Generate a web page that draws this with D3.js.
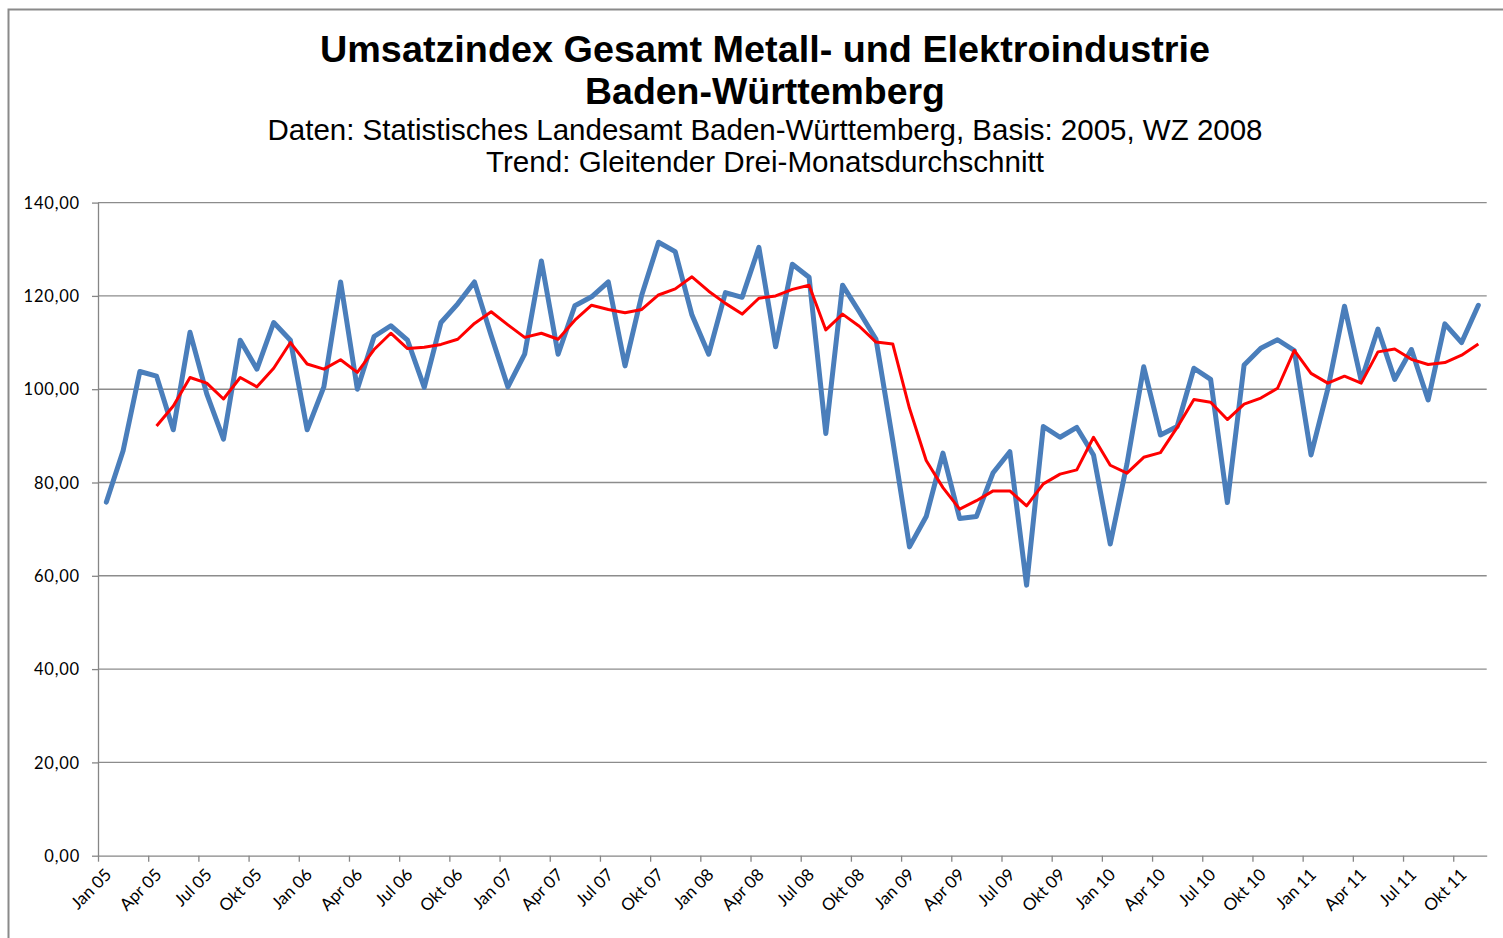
<!DOCTYPE html>
<html>
<head>
<meta charset="utf-8">
<script src="https://cdn.jsdelivr.net/npm/d3@7"></script>
<style>
  body { margin: 0; background: #fff; }
  svg { display: block; }
  .title { font-family: "Liberation Sans", Arial, sans-serif; font-weight: bold; fill: #000; }
  .subtitle { font-family: "Liberation Sans", Arial, sans-serif; fill: #000; }
  .axis text { font-family: Lato, "Open Sans", sans-serif; fill: #000; }
  .axis path, .axis line { stroke: #868686; stroke-width: 1.3; }
  .grid line { stroke: #8c8c8c; stroke-width: 1.4; }
</style>
</head>
<body>
<div id="chart"></div>
<script>
// month names + years for the categories (Jan 05 .. Nov 11)
var monthNames = ["Jan", "Feb", "Mrz", "Apr", "Mai", "Jun", "Jul", "Aug", "Sep", "Okt", "Nov", "Dez"];
var years = ["05", "06", "07", "08", "09", "10", "11"];

// tick labels, one every three months
var tickLabels = [
  "Jan 05", "Apr 05", "Jul 05", "Okt 05", "Jan 06", "Apr 06", "Jul 06", "Okt 06",
  "Jan 07", "Apr 07", "Jul 07", "Okt 07", "Jan 08", "Apr 08", "Jul 08", "Okt 08",
  "Jan 09", "Apr 09", "Jul 09", "Okt 09", "Jan 10", "Apr 10", "Jul 10", "Okt 10",
  "Jan 11", "Apr 11", "Jul 11", "Okt 11"
];

// Umsatzindex, monthly
var umsatz = [
  75.8, 86.8, 103.8, 102.8, 91.3, 112.2, 99.0, 89.3, 110.5, 104.3, 114.3, 110.5,
  91.3, 100.5, 123.0, 100.0, 111.3, 113.6, 110.5, 100.4, 114.3, 118.3, 123.0, 111.5,
  100.5, 107.5, 127.5, 107.5, 117.9, 119.8, 123.0, 105.0, 120.2, 131.5, 129.5, 115.9,
  107.5, 120.7, 119.7, 130.4, 109.1, 126.8, 124.0, 90.5, 122.3, 116.6, 110.7, 89.0,
  66.2, 72.7, 86.3, 72.3, 72.7, 82.1, 86.6, 58.0, 92.0, 89.7, 91.8, 85.9,
  66.8, 84.0, 104.8, 90.2, 92.0, 104.5, 102.1, 75.7, 105.2, 108.8, 110.6, 108.3,
  85.9, 100.0, 117.8, 101.8, 112.9, 102.1, 108.5, 97.7, 114.0, 110.0, 118.0
];

// Gleitender Drei-Monatsdurchschnitt (starts Apr 05)
var trend = [
  null, null, null, 92.1, 96.4, 102.5, 101.3, 97.9, 102.5, 100.5, 104.5, 110.0,
  105.4, 104.3, 106.3, 103.6, 108.5, 112.0, 108.7, 109.0, 109.6, 110.7, 114.1, 116.6,
  113.8, 111.1, 112.0, 110.7, 114.8, 118.0, 117.1, 116.4, 117.1, 120.2, 121.5, 124.1,
  121.0, 118.4, 116.1, 119.5, 120.0, 121.4, 122.3, 112.7, 116.1, 113.5, 110.1, 109.7,
  95.9, 84.7, 78.9, 74.3, 76.1, 78.2, 78.2, 75.0, 79.7, 81.8, 82.7, 89.7,
  83.7, 82.0, 85.4, 86.4, 91.8, 97.8, 97.2, 93.5, 96.8, 98.1, 100.2, 108.3,
  103.4, 101.3, 102.8, 101.3, 108.0, 108.6, 106.4, 105.3, 105.7, 107.3, 109.7
];

var yTicks = [0, 20, 40, 60, 80, 100, 120, 140];

var titleLines = [
  "Umsatzindex Gesamt Metall- und Elektroindustrie",
  "Baden-Württemberg"
];
var subtitleLines = [
  "Daten: Statistisches Landesamt Baden-Württemberg, Basis: 2005, WZ 2008",
  "Trend: Gleitender Drei-Monatsdurchschnitt"
];

(function() {
  var width = 1503, height = 938;
  var plot = { left: 98, right: 1486.7, top: 202.6, bottom: 855.7 };

  var months = [];
  years.forEach(function(y) {
    monthNames.forEach(function(m) { months.push(m + " " + y); });
  });
  months = months.slice(0, umsatz.length);

  var svg = d3.select("#chart").append("svg")
    .attr("width", width)
    .attr("height", height);

  // outer chart border
  svg.append("rect")
    .attr("x", 8.5)
    .attr("y", 9.5)
    .attr("width", width + 20)
    .attr("height", height + 20)
    .attr("fill", "none")
    .attr("stroke", "#8a8a8a")
    .attr("stroke-width", 2);

  // titles
  var cx = 765;
  var titleY = [62, 104], titleW = [890, 360];
  titleLines.forEach(function(t, i) {
    svg.append("text")
      .attr("class", "title")
      .attr("x", cx)
      .attr("y", titleY[i])
      .attr("text-anchor", "middle")
      .attr("font-size", 36)
      .attr("textLength", titleW[i])
      .attr("lengthAdjust", "spacingAndGlyphs")
      .text(t);
  });
  var subY = [140, 172], subW = [995, 558];
  subtitleLines.forEach(function(t, i) {
    svg.append("text")
      .attr("class", "subtitle")
      .attr("x", cx)
      .attr("y", subY[i])
      .attr("text-anchor", "middle")
      .attr("font-size", 30)
      .attr("textLength", subW[i])
      .attr("lengthAdjust", "spacingAndGlyphs")
      .text(t);
  });

  var x = d3.scaleLinear()
    .domain([0, months.length])
    .range([plot.left, plot.right]);

  var y = d3.scaleLinear()
    .domain([0, 140])
    .range([plot.bottom, plot.top]);

  var de = d3.formatLocale({ decimal: ",", thousands: ".", grouping: [3], currency: ["", " €"] });
  var fmt = de.format(".2f");

  // horizontal gridlines
  svg.append("g")
    .attr("class", "grid")
    .selectAll("line")
    .data(yTicks.filter(function(d) { return d > 0; }))
  .enter().append("line")
    .attr("x1", plot.left)
    .attr("x2", plot.right)
    .attr("y1", function(d) { return y(d); })
    .attr("y2", function(d) { return y(d); });

  // y axis
  var yAxis = svg.append("g")
    .attr("class", "axis")
    .attr("transform", "translate(" + plot.left + ",0)")
    .call(d3.axisLeft(y).tickValues(yTicks).tickFormat(fmt).tickSize(6).tickSizeOuter(0).tickPadding(12));
  yAxis.selectAll("text")
    .attr("font-size", 16.5)
    .attr("letter-spacing", 0.8)
    .attr("dy", "0.35em");

  // x axis, ticks between categories
  var tickIdx = tickLabels.map(function(d, i) { return i * 3; });
  var xAxis = svg.append("g")
    .attr("class", "axis")
    .attr("transform", "translate(0," + plot.bottom + ")")
    .call(d3.axisBottom(x).tickValues(tickIdx).tickFormat(function(d, i) { return tickLabels[i]; })
      .tickSize(6).tickSizeOuter(0));
  xAxis.selectAll("text")
    .attr("font-size", 17)
    .attr("text-anchor", "end")
    .attr("dy", 0)
    .attr("y", 0)
    .attr("transform", "translate(14,20) rotate(-45)");

  function xc(i) { return x(i + 0.5); }

  var lineUmsatz = d3.line()
    .x(function(d, i) { return xc(i); })
    .y(function(d) { return y(d); });

  var lineTrend = d3.line()
    .defined(function(d) { return d != null; })
    .x(function(d, i) { return xc(i); })
    .y(function(d) { return y(d); });

  svg.append("path")
    .datum(umsatz)
    .attr("fill", "none")
    .attr("stroke", "#4a7ebb")
    .attr("stroke-width", 5)
    .attr("stroke-linejoin", "round")
    .attr("stroke-linecap", "round")
    .attr("d", lineUmsatz);

  svg.append("path")
    .datum(trend)
    .attr("fill", "none")
    .attr("stroke", "#ff0000")
    .attr("stroke-width", 3)
    .attr("stroke-linejoin", "round")
    .attr("d", lineTrend);
})();
</script>
</body>
</html>
